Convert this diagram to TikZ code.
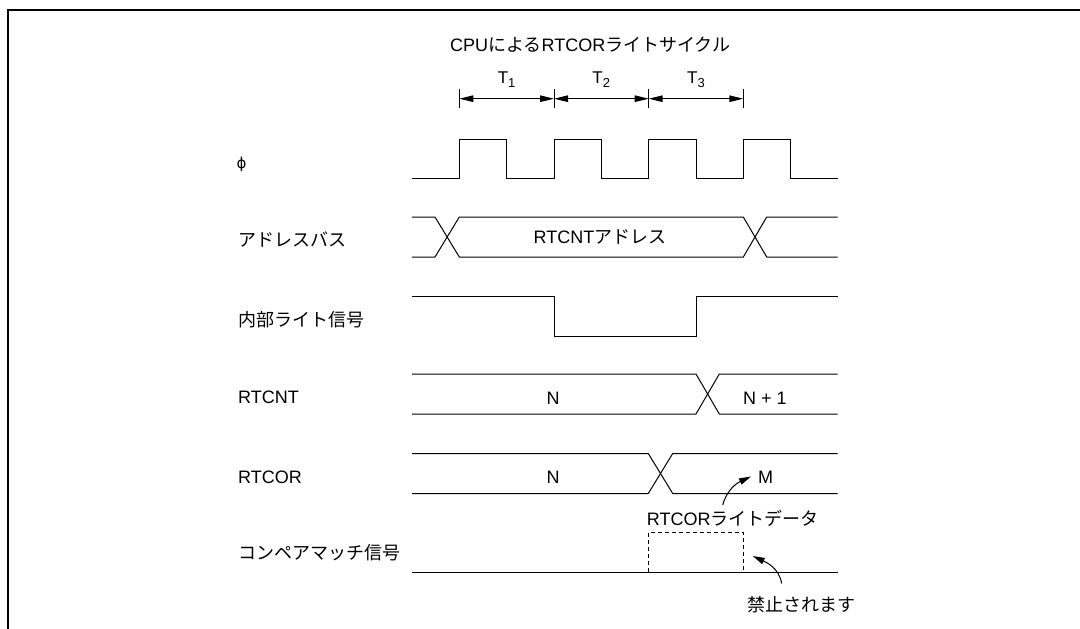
\documentclass[tikz,border=0pt]{standalone}
\usepackage{fontspec}
\setmainfont{Liberation Sans}
\newfontfamily\jp{Noto Sans CJK JP}
\newfontfamily\dvs{DejaVu Sans}
\usetikzlibrary{arrows.meta}
\tikzset{
  lbl/.style={font=\fontsize{18}{20}\selectfont, inner sep=0pt},
  sig/.style={line width=1pt, line join=miter},
  tick/.style={line width=0.9pt},
  dim/.style={line width=1pt, {Triangle[length=14pt,width=6.5pt]}-{Triangle[length=14pt,width=6.5pt]}},
  callout/.style={line width=1pt, -{Triangle[length=12pt,width=6.5pt]}},
  frameline/.style={line width=2.2pt},
  dashbox/.style={line width=1pt, dash pattern=on 4pt off 3pt}
}
\begin{document}
\begin{tikzpicture}[x=1pt,y=-1pt]
\useasboundingbox (0,0) rectangle (1080,629);
% frame
\draw[frameline] (8,629) -- (8,10) -- (1080,10);

% title
\node[lbl, anchor=base west] (title) at (450,51.5) {CPU{\jp による}RTCOR{\jp ライトサイクル}};

% T dimensions
\coordinate (t0) at (459.3,98.7);
\coordinate (t1) at (554,98.7);
\coordinate (t2) at (648.7,98.7);
\coordinate (t3) at (743.3,98.7);
\foreach \x in {459.3,554,648.7,743.3} \draw[tick] (\x,89) -- (\x,108);
\draw[dim] (t0) -- (t1);
\draw[dim] (t1) -- (t2);
\draw[dim] (t2) -- (t3);
\node[inner sep=0pt, anchor=base, font=\fontsize{17}{18}\selectfont] (T1) at (506.6,83.3) {T\raisebox{-4.5pt}{\fontsize{13}{13}\selectfont 1}};
\node[inner sep=0pt, anchor=base, font=\fontsize{17}{18}\selectfont] (T2) at (601.3,83.3) {T\raisebox{-4.5pt}{\fontsize{13}{13}\selectfont 2}};
\node[inner sep=0pt, anchor=base, font=\fontsize{17}{18}\selectfont] (T3) at (696,83.3) {T\raisebox{-4.5pt}{\fontsize{13}{13}\selectfont 3}};

% left labels
\node[inner sep=0pt, anchor=base west, font=\fontsize{15}{17}\selectfont] (lphi) at (236.5,168) {\dvs ϕ};
\node[lbl, anchor=base west] (laddr) at (238,246.5) {\jp アドレスバス};
\node[lbl, anchor=base west] (lwr) at (238,326.5) {\jp 内部ライト信号};
\node[lbl, anchor=base west] (lcnt) at (238,403) {RTCNT};
\node[lbl, anchor=base west] (lcor) at (238,483) {RTCOR};
\node[lbl, anchor=base west] (lcmp) at (238,559) {\jp コンペアマッチ信号};

% clock
\draw[sig] (412,178) -- (459.3,178) -- (459.3,139) -- (506.7,139) -- (506.7,178)
  -- (554,178) -- (554,139) -- (601.3,139) -- (601.3,178)
  -- (648.7,178) -- (648.7,139) -- (696,139) -- (696,178)
  -- (743.3,178) -- (743.3,139) -- (790.7,139) -- (790.7,178) -- (837.7,178);

% address bus
\draw[sig] (412,217) -- (435,217) -- (459.3,257) -- (743.3,257) -- (766.7,217) -- (837.7,217);
\draw[sig] (412,257) -- (435,257) -- (459.3,217) -- (743.3,217) -- (766.7,257) -- (837.7,257);
\node[lbl, anchor=base] (vaddr) at (600,243.5) {RTCNT{\jp アドレス}};

% internal write
\draw[sig] (412,296) -- (554,296) -- (554,336) -- (696,336) -- (696,296) -- (837.7,296);

% RTCNT
\draw[sig] (412,374) -- (696,374) -- (719.3,414) -- (837.7,414);
\draw[sig] (412,414) -- (696,414) -- (719.3,374) -- (837.7,374);
\node[lbl, anchor=base] (cntN) at (553,404.5) {N};
\node[lbl, anchor=base] (cntN1) at (765,404.5) {N + 1};

% RTCOR
\draw[sig] (412,453.5) -- (648.3,453.5) -- (672.7,493.5) -- (837.7,493.5);
\draw[sig] (412,493.5) -- (648.3,493.5) -- (672.7,453.5) -- (837.7,453.5);
\node[lbl, anchor=base] (corN) at (553,483) {N};
\node[lbl, anchor=base] (corM) at (765.7,483) {M};

% compare match
\draw[sig] (412,572) -- (837.7,572);
\draw[dashbox] (648.3,572) -- (648.3,532.3) -- (743.3,532.3) -- (743.3,572);

% callouts
\node[lbl, anchor=base west] (wdata) at (646.7,525) {RTCOR{\jp ライトデータ}};
\node[lbl, anchor=base west] (kinshi) at (747.3,611.5) {\jp 禁止されます};
\coordinate (wdS) at (722.7,505);
\coordinate (wdT) at (751,476.5);
\coordinate (kS) at (781.7,583.5);
\coordinate (kT) at (752.7,556);
\draw[callout] (wdS) to[out=75,in=205] (wdT);
\draw[callout] (kS) to[out=100,in=-25] (kT);
\end{tikzpicture}
\end{document}
